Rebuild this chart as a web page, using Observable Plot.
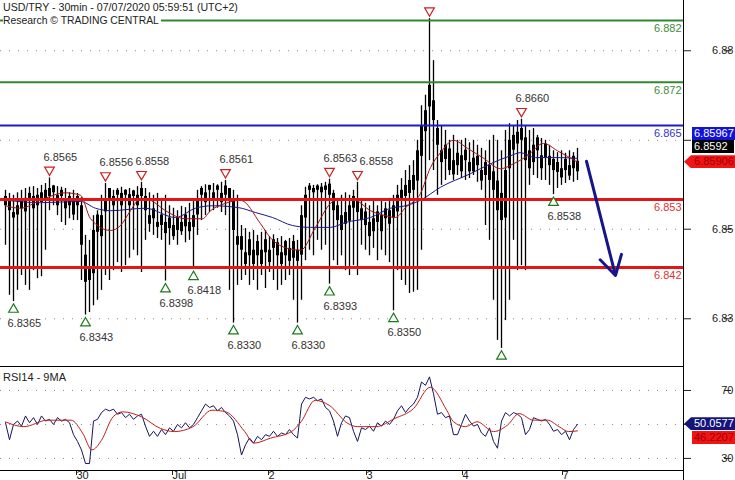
<!DOCTYPE html>
<html><head><meta charset="utf-8">
<script src="https://cdn.jsdelivr.net/npm/d3@7"></script>
<script src="https://cdn.jsdelivr.net/npm/@observablehq/plot@0.6"></script>
<style>
body{margin:0;background:#fff;font-family:"Liberation Sans",Arial,sans-serif;}
#wrap{position:relative;width:735px;height:480px;overflow:hidden;background:#fff}
.panel{position:absolute;left:0}
.hdr{position:absolute;left:3px;font-size:10.6px;color:#222;line-height:13px;white-space:nowrap;background:#fff;padding-right:2px}
.tag{position:absolute;height:13px;font-size:11px;line-height:13px;white-space:nowrap;box-sizing:border-box}
.hl{position:absolute;background:#000}
</style></head><body><div id="wrap"></div><script>
// ---- data ----
const titleLine1 = "USD/TRY - 30min - 07/07/2020 05:59:51 (UTC+2)";
const titleLine2 = "Research \u00a9 TRADING CENTRAL";
const rsiTitle = "RSI14 - 9MA";

const hi = [6.8545,6.8540,6.8537,6.8541,6.8545,6.8548,6.8550,6.8551,6.8548,6.8553,
6.8556,6.8565,6.8553,6.8551,6.8550,6.8548,6.8541,6.8545,6.8540,6.8533,
6.8472,6.8464,6.8504,6.8512,6.8537,6.8556,6.8548,6.8545,6.8548,6.8550,
6.8546,6.8548,6.8545,6.8551,6.8558,6.8548,6.8541,6.8537,6.8540,6.8532,
6.8537,6.8520,6.8516,6.8512,6.8519,6.8517,6.8524,6.8529,6.8545,6.8551,
6.8554,6.8553,6.8556,6.8554,6.8558,6.8561,6.8548,6.8545,6.8537,6.8488,
6.8483,6.8477,6.8480,6.8472,6.8477,6.8480,6.8470,6.8473,6.8467,6.8470,
6.8464,6.8467,6.8472,6.8464,6.8520,6.8550,6.8556,6.8553,6.8554,6.8556,
6.8558,6.8563,6.8545,6.8532,6.8537,6.8541,6.8537,6.8545,6.8558,6.8529,
6.8524,6.8520,6.8529,6.8520,6.8529,6.8525,6.8532,6.8537,6.8553,6.8564,
6.8577,6.8585,6.8593,6.8626,6.8682,6.8699,6.8823,6.8755,6.8658,6.8650,
6.8642,6.8626,6.8634,6.8626,6.8626,6.8629,6.8622,6.8626,6.8618,6.8613,
6.8609,6.8626,6.8634,6.8626,6.8609,6.8642,6.8653,6.8650,6.8658,6.8660,
6.8650,6.8642,6.8645,6.8634,6.8629,6.8626,6.8618,6.8609,6.8606,6.8609,
6.8605,6.8609,6.8606,6.8613];
const lo = [6.8456,6.8375,6.8365,6.8383,6.8407,6.8391,6.8383,6.8415,6.8402,6.8405,
6.8448,6.8512,6.8520,6.8504,6.8493,6.8488,6.8499,6.8496,6.8496,6.8399,
6.8343,6.8347,6.8358,6.8367,6.8383,6.8407,6.8399,6.8415,6.8428,6.8412,
6.8423,6.8435,6.8448,6.8439,6.8412,6.8464,6.8477,6.8472,6.8467,6.8464,
6.8398,6.8456,6.8464,6.8456,6.8472,6.8460,6.8464,6.8418,6.8472,6.8496,
6.8504,6.8509,6.8512,6.8516,6.8509,6.8504,6.8383,6.8330,6.8391,6.8399,
6.8407,6.8391,6.8399,6.8383,6.8407,6.8386,6.8412,6.8399,6.8383,6.8391,
6.8399,6.8407,6.8367,6.8330,6.8367,6.8431,6.8448,6.8439,6.8464,6.8448,
6.8456,6.8393,6.8431,6.8423,6.8439,6.8415,6.8407,6.8423,6.8407,6.8456,
6.8448,6.8439,6.8451,6.8431,6.8448,6.8439,6.8428,6.8350,6.8415,6.8399,
6.8391,6.8378,6.8380,6.8383,6.8448,6.8529,6.8593,6.8577,6.8537,6.8553,
6.8561,6.8569,6.8561,6.8569,6.8564,6.8561,6.8564,6.8569,6.8558,6.8545,
6.8488,6.8464,6.8367,6.8302,6.8289,6.8334,6.8367,6.8464,6.8415,6.8423,
6.8415,6.8553,6.8569,6.8564,6.8561,6.8561,6.8553,6.8538,6.8548,6.8553,
6.8556,6.8561,6.8558,6.8561];
const open = [6.8535,6.8530,6.8500,6.8505,6.8515,6.8510,6.8540,6.8515,6.8520,6.8525,
6.8530,6.8535,6.8552,6.8520,6.8545,6.8515,6.8535,6.8505,6.8535,6.8520,
6.8440,6.8420,6.8410,6.8505,6.8470,6.8510,6.8548,6.8520,6.8545,6.8520,
6.8545,6.8520,6.8544,6.8520,6.8548,6.8535,6.8490,6.8515,6.8485,6.8505,
6.8475,6.8500,6.8470,6.8500,6.8478,6.8505,6.8478,6.8485,6.8505,6.8548,
6.8525,6.8553,6.8528,6.8552,6.8525,6.8552,6.8548,6.8530,6.8470,6.8470,
6.8425,6.8465,6.8425,6.8462,6.8425,6.8465,6.8428,6.8465,6.8460,6.8425,
6.8462,6.8430,6.8462,6.8430,6.8440,6.8500,6.8552,6.8548,6.8552,6.8550,
6.8552,6.8555,6.8540,6.8520,6.8480,6.8490,6.8495,6.8535,6.8530,6.8515,
6.8510,6.8470,6.8478,6.8510,6.8478,6.8515,6.8490,6.8500,6.8510,6.8530,
6.8535,6.8540,6.8545,6.8560,6.8600,6.8640,6.8680,6.8690,6.8645,6.8590,
6.8595,6.8612,6.8570,6.8605,6.8575,6.8610,6.8575,6.8575,6.8600,6.8560,
6.8590,6.8585,6.8575,6.8560,6.8540,6.8500,6.8580,6.8610,6.8620,6.8645,
6.8630,6.8580,6.8590,6.8630,6.8580,6.8620,6.8600,6.8595,6.8590,6.8565,
6.8595,6.8568,6.8600,6.8575];
const close = [6.8520,6.8512,6.8509,6.8520,6.8529,6.8532,6.8529,6.8535,6.8537,6.8541,
6.8545,6.8548,6.8541,6.8537,6.8535,6.8529,6.8520,6.8529,6.8520,6.8456,
6.8396,6.8399,6.8480,6.8477,6.8504,6.8529,6.8532,6.8535,6.8537,6.8540,
6.8537,6.8538,6.8535,6.8537,6.8535,6.8512,6.8504,6.8499,6.8493,6.8488,
6.8493,6.8483,6.8488,6.8480,6.8493,6.8486,6.8493,6.8504,6.8529,6.8537,
6.8541,6.8545,6.8541,6.8545,6.8540,6.8537,6.8529,6.8480,6.8456,6.8448,
6.8444,6.8439,6.8448,6.8439,6.8448,6.8444,6.8448,6.8451,6.8439,6.8444,
6.8439,6.8451,6.8435,6.8448,6.8504,6.8537,6.8545,6.8541,6.8545,6.8541,
6.8545,6.8537,6.8512,6.8496,6.8504,6.8509,6.8520,6.8516,6.8509,6.8496,
6.8488,6.8493,6.8499,6.8493,6.8504,6.8499,6.8512,6.8520,6.8537,6.8545,
6.8553,6.8561,6.8569,6.8609,6.8650,6.8674,6.8715,6.8658,6.8618,6.8609,
6.8618,6.8577,6.8593,6.8585,6.8601,6.8593,6.8590,6.8597,6.8585,6.8577,
6.8569,6.8561,6.8545,6.8512,6.8496,6.8577,6.8626,6.8634,6.8639,6.8626,
6.8593,6.8609,6.8618,6.8609,6.8601,6.8597,6.8585,6.8577,6.8574,6.8580,
6.8577,6.8585,6.8580,6.8592];

const redMaIdx = [0,3.75,8.75,15,18.75,21.25,26.25,28.75,31.25,33.75,36.25,40,45,49.25,51.25,55,58.75,63.75,66.25,70,73.75,77.5,81.25,83.75,87.5,91.25,95,97.5,100,103.75,106.25,108.75,112,115.5,119.5,123.75,127,130.5,134.5,138,143];
const redMaVal = [6.8520,6.8516,6.8529,6.8541,6.8537,6.8499,6.8480,6.8488,6.8512,6.8532,6.8529,6.8512,6.8499,6.8499,6.8512,6.8524,6.8529,6.8491,6.8468,6.8452,6.8448,6.8485,6.8524,6.8532,6.8529,6.8512,6.8504,6.8501,6.8517,6.8540,6.8582,6.8606,6.8626,6.8613,6.8597,6.8580,6.8588,6.8601,6.8621,6.8609,6.85906];
const blueMaIdx = [0,8.75,18.75,22.5,26.25,35,42.5,47.5,51.75,58.25,62.5,66.75,71.75,76.25,81.25,85,91.25,96.25,100,103.75,108.75,116.25,121.25,126.25,128.75,132.5,138.75,143];
const blueMaVal = [6.8529,6.8525,6.8527,6.8516,6.8512,6.8516,6.8501,6.8516,6.8520,6.8517,6.8509,6.8501,6.8488,6.8485,6.8485,6.8493,6.8501,6.8516,6.8520,6.8529,6.8550,6.8572,6.8588,6.8601,6.8606,6.8598,6.8598,6.85967];

const levelVals = [6.882, 6.872, 6.865, 6.853, 6.842];
const levelKinds = ["resistance","resistance","pivot","support","support"];

const highPivotIdx = [11,25,34,55,81,88,106,129];
const highPivotLabel = ["6.8565","6.8556","6.8558","6.8561","6.8563","6.8558","","6.8660"];
const lowPivotIdx = [2,20,40,47,57,73,81,97,124,137];
const lowPivotLabel = ["6.8365","6.8343","6.8398","6.8418","6.8330","6.8330","6.8393","6.8350","","6.8538"];

const forecastIdx = [145.25, 152.5];
const forecastVal = [6.8592, 6.8407];

const priceGrid = [6.8771, 6.8626, 6.8482, 6.8337];
const priceTickLabels = [6.8771, 6.8482, 6.8337];
const rsiGrid = [70, 50, 30];
const rsiTickLabels = [70, 30];
const dayTickIdx = [17, 41, 65, 89.5, 113.5, 138.5];
const dayLabels = ["30","Jul","2","3","4","7"];

const rsi = [51,41,50,52,49,55,51,54,50,55, 52,53,50,54,52,53,51,44,40,35,
27,27,52,53,57,59,58,59,56,57, 54,56,53,55,56,49,43,46,43,47,
44,48,46,50,48,51,48,50,54,58, 62,60,61,58,60,57,55,52,44,32,
38,42,39,43,41,44,43,46,43,45, 44,47,44,42,62,66,65,66,64,65,
60,58,52,43,51,55,54,46,40,48, 47,49,46,51,49,52,50,53,58,61,
57,60,62,66,75,73,78,68,56,57, 54,55,44,44,50,56,52,49,50,45,
43,48,40,36,52,57,55,57,56,54, 44,47,54,53,52,53,50,46,47,44,
46,41,47,50.0577];
const rsiMaIdx = [0,4.6,10.5,16.4,19.3,21.6,24,26.9,29.3,34,38.7,42.2,46.9,51.6,55.1,59.8,62.1,66.2,71.5,73.9,77.4,80.9,85.6,88,92.6,97.3,102,106.2,110.3,112,115,117.9,122,125.5,128.4,132,135.5,138.4,140.8,143];
const rsiMaVal = [51.5,48.7,52.5,52.5,44.8,35,40.7,54.5,57.4,54.5,47.7,45.8,48.7,58.4,57.4,45.8,39,41.9,45.8,51.6,64.2,61.3,50.6,48.7,48.7,53.5,59.3,71.9,58.4,51.6,48.7,51.6,45.8,49.6,56.4,52.5,52.5,48.7,45.8,46.2207];

// ---- tables built from the arrays ----
const bars = hi.map((h, i) => ({i, hi: h, lo: lo[i], open: open[i], close: close[i]}));
const redMa = redMaIdx.map((i, k) => ({i, v: redMaVal[k]}));
const blueMa = blueMaIdx.map((i, k) => ({i, v: blueMaVal[k]}));
const levels = levelVals.map((v, k) => ({v, kind: levelKinds[k]}));
const highs = highPivotIdx.map((i, k) => ({i, v: hi[i], label: highPivotLabel[k]}));
const lows = lowPivotIdx.map((i, k) => ({i, v: lo[i], label: lowPivotLabel[k]}));
const forecast = [{x1: forecastIdx[0], y1: forecastVal[0], x2: forecastIdx[1], y2: forecastVal[1]}];
const rsiData = rsi.map((v, i) => ({i, v}));
const rsiMa = rsiMaIdx.map((i, k) => ({i, v: rsiMaVal[k]}));
const dayLabel = new Map(dayTickIdx.map((d, k) => [d, dayLabels[k]]));
// the label right after a close neighbour is nudged so the two stay readable
const highsA = highs.filter((d, k) => !(k > 0 && d.i - highs[k - 1].i < 8));
const highsB = highs.filter((d, k) => k > 0 && d.i - highs[k - 1].i < 8);

const kindColor = {resistance: "#2f8a2f", pivot: "#1c1cc8", support: "#e21616"};
const kindLabel = {resistance: "#3c8c3c", pivot: "#3434c8", support: "#dc3232"};
const kindWidth = {resistance: 2, pivot: 2, support: 3};

const font = "'Liberation Sans', Arial, sans-serif";
const xDomain = [-1.25, 169.5];

const main = Plot.plot({
  width: 735, height: 366, marginLeft: 0, marginRight: 52, marginTop: 0, marginBottom: 0,
  style: {fontFamily: font, fontSize: "11px", color: "#222", background: "transparent", overflow: "visible"},
  x: {domain: xDomain, axis: null},
  y: {domain: [6.82597, 6.88524], axis: null},
  marks: [
    Plot.gridY(priceGrid, {stroke: "#8a8a8a", strokeOpacity: 1, strokeDasharray: "1,8"}),
    Plot.axisY(priceGrid, {anchor: "right", tickSize: 7, text: null, label: null}),
    Plot.axisY(priceTickLabels, {anchor: "right", tickSize: 7, tickPadding: 3, textAnchor: "end", dx: 40, tickFormat: d => d.toFixed(2), fontSize: 11, label: null}),
    Plot.ruleX(bars, {x: "i", y1: "lo", y2: "hi", stroke: "#000", strokeWidth: 1.3}),
    Plot.ruleX(bars, {x: "i", y1: "open", y2: "close", stroke: "#000", strokeWidth: 3}),
    Plot.line(blueMa, {x: "i", y: "v", stroke: "#1a1a8a", strokeWidth: 1, curve: "monotone-x"}),
    Plot.line(redMa, {x: "i", y: "v", stroke: "#a51515", strokeWidth: 1, curve: "monotone-x"}),
    Plot.ruleY(levels, {y: "v", stroke: d => kindColor[d.kind], strokeWidth: d => kindWidth[d.kind]}),
    Plot.text(levels, {y: "v", text: d => d.v.toFixed(3), frameAnchor: "right", textAnchor: "end", dx: -2, dy: 8, fill: d => kindLabel[d.kind], fontSize: 11}),
    Plot.dot(highs, {x: "i", y: "v", symbol: "triangle", rotate: 180, r: 3.6, stroke: "#cc2020", fill: "#fff", strokeWidth: 1.2, dy: -8}),
    Plot.text(highsA, {x: "i", y: "v", text: "label", dy: -21, dx: -6, textAnchor: "start", fill: "#333", fontSize: 11}),
    Plot.text(highsB, {x: "i", y: "v", text: "label", dy: -21, dx: 2, textAnchor: "start", fill: "#333", fontSize: 11}),
    Plot.dot(lows, {x: "i", y: "v", symbol: "triangle", r: 3.6, stroke: "#1f7a1f", fill: "#fff", strokeWidth: 1.2, dy: 8}),
    Plot.text(lows, {x: "i", y: "v", text: "label", dy: 22, dx: -6, textAnchor: "start", fill: "#333", fontSize: 11}),
    Plot.arrow(forecast, {x1: "x1", y1: "y1", x2: "x2", y2: "y2", stroke: "#16168a", strokeWidth: 3, headLength: 11})
  ]
});

const rsiPlot = Plot.plot({
  width: 735, height: 114, marginLeft: 0, marginRight: 52, marginTop: 0, marginBottom: 10,
  style: {fontFamily: font, fontSize: "11px", color: "#222", background: "transparent", overflow: "visible"},
  x: {domain: xDomain, axis: null},
  y: {domain: [22.9, 84.1], axis: null},
  marks: [
    Plot.gridY(rsiGrid, {stroke: "#8a8a8a", strokeOpacity: 1, strokeDasharray: "1,8"}),
    Plot.axisY(rsiGrid, {anchor: "right", tickSize: 7, text: null, label: null}),
    Plot.axisY(rsiTickLabels, {anchor: "right", tickSize: 7, tickPadding: 3, textAnchor: "end", dx: 40, fontSize: 11, label: null}),
    Plot.axisX(dayTickIdx, {anchor: "bottom", tickSize: 5, tickPadding: -4, textAnchor: "start", dx: 3, tickFormat: d => dayLabel.get(d), fontSize: 11, label: null}),
    Plot.line(rsiData, {x: "i", y: "v", stroke: "#15155e", strokeWidth: 1}),
    Plot.line(rsiMa, {x: "i", y: "v", stroke: "#c0201a", strokeWidth: 1, curve: "monotone-x"})
  ]
});

const wrap = document.getElementById("wrap");
main.classList.add("panel"); main.style.top = "0px";
rsiPlot.classList.add("panel"); rsiPlot.style.top = "366px";
wrap.appendChild(main);
wrap.appendChild(rsiPlot);

function div(cls, css, text) {
  const d = document.createElement("div");
  d.className = cls; d.style.cssText = css;
  if (text != null) d.textContent = text;
  wrap.appendChild(d);
  return d;
}
// panel borders
div("hl", "left:0;top:366px;width:684px;height:1px");
div("hl", "left:0;top:470px;width:684px;height:1px");
div("hl", "left:683px;top:0;width:1px;height:480px");
// titles
div("hdr", "top:1px", titleLine1);
div("hdr", "top:14px;font-size:10.4px", titleLine2);
div("hdr", "top:371px;font-size:11px;background:transparent", rsiTitle);

// price tags placed with the plot scales
const ym = main.scale("y");
const redTop = ym.apply(redMaVal[redMaVal.length - 1]) - 6.5;
const blackTop = redTop - 15;
const blueTop = blackTop - 13;
const tip = "clip-path:polygon(0 50%,7px 0,100% 0,100% 100%,7px 100%);";
div("tag", `left:692px;top:${blueTop}px;width:43px;background:#1212d8;color:#fff;padding-left:2px`, blueMaVal[blueMaVal.length - 1].toFixed(5));
div("tag", `left:692px;top:${blackTop}px;width:42px;background:#000;color:#fff;padding-left:2px`, String(close[close.length - 1]));
div("tag", `left:684px;top:${redTop}px;width:51px;background:#f01414;color:#a00000;padding-left:10px;${tip}`, redMaVal[redMaVal.length - 1].toFixed(5));

const yr = rsiPlot.scale("y");
const navyTop = 366 + yr.apply(rsi[rsi.length - 1]) - 6.5;
div("tag", `left:684px;top:${navyTop}px;width:51px;background:#14147a;color:#fff;padding-left:10px;${tip}`, rsi[rsi.length - 1].toFixed(4));
div("tag", `left:692px;top:${navyTop + 14}px;width:43px;background:#f01414;color:#a00000;padding-left:2px`, rsiMaVal[rsiMaVal.length - 1].toFixed(4));
</script></body></html>
